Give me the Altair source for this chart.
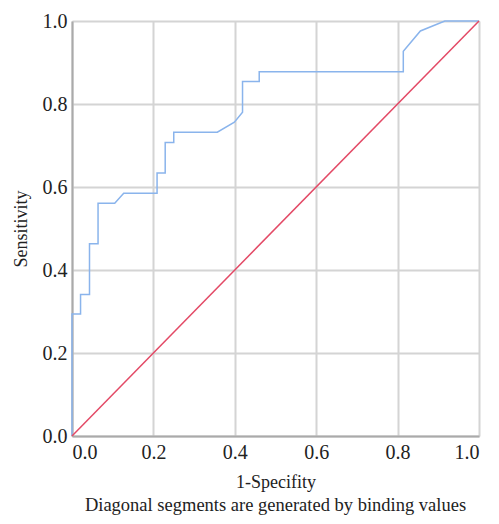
import altair as alt
import pandas as pd

fpr = [0.0, 0.0, 0.021, 0.021, 0.043, 0.043, 0.064, 0.064, 0.105, 0.127, 0.209, 0.209,
       0.229, 0.229, 0.250, 0.250, 0.357, 0.399, 0.419, 0.419, 0.460, 0.460, 0.814, 0.814,
       0.856, 0.916, 1.0]
tpr = [0.0, 0.294, 0.294, 0.341, 0.341, 0.463, 0.463, 0.561, 0.561, 0.585, 0.585, 0.634,
       0.634, 0.707, 0.707, 0.732, 0.732, 0.756, 0.780, 0.854, 0.854, 0.878, 0.878, 0.927,
       0.976, 1.0, 1.0]
diag_x = [0.0, 1.0]
diag_y = [0.0, 1.0]

roc = pd.DataFrame({"x": fpr, "y": tpr, "o": range(len(fpr))})
diag = pd.DataFrame({"x": diag_x, "y": diag_y, "o": range(len(diag_x))})

font = "Liberation Serif"
xs = alt.Scale(domain=[0, 1], nice=False)
ys = alt.Scale(domain=[0, 1], nice=False)
xax = alt.Axis(title="1-Specifity", values=[0, 0.2, 0.4, 0.6, 0.8, 1.0], format=".1f",
               ticks=False, labelPadding=6, titlePadding=11)
yax = alt.Axis(title="Sensitivity", values=[0, 0.2, 0.4, 0.6, 0.8, 1.0], format=".1f",
               ticks=False, labelPadding=5, titlePadding=12)

line_roc = alt.Chart(roc).mark_line(color="#8ab4ec", strokeWidth=1.5).encode(
    x=alt.X("x:Q", scale=xs, axis=xax),
    y=alt.Y("y:Q", scale=ys, axis=yax),
    order="o:Q",
)
line_diag = alt.Chart(diag).mark_line(color="#e34a66", strokeWidth=1.5).encode(
    x=alt.X("x:Q", scale=xs),
    y=alt.Y("y:Q", scale=ys),
    order="o:Q",
)

chart = (line_roc + line_diag).properties(
    width=407, height=415,
    title=alt.TitleParams("Diagonal segments are generated by binding values", orient="bottom",
                          font=font, fontSize=18.5, fontWeight="normal", color="#222", offset=5),
    padding={"left": 64, "top": 13, "right": 12, "bottom": 80},
    autosize=alt.AutoSizeParams(type="none"),
).configure_axis(
    labelFont=font, titleFont=font, labelFontSize=20, titleFontSize=18,
    titleFontWeight="normal", labelColor="#222", titleColor="#222",
    gridColor="#d4d4d4", gridWidth=2, domainColor="#aaaaaa", domainWidth=2,
).configure_view(stroke=None)

chart.save("out.html", embed_options={"renderer": "svg", "actions": False})
